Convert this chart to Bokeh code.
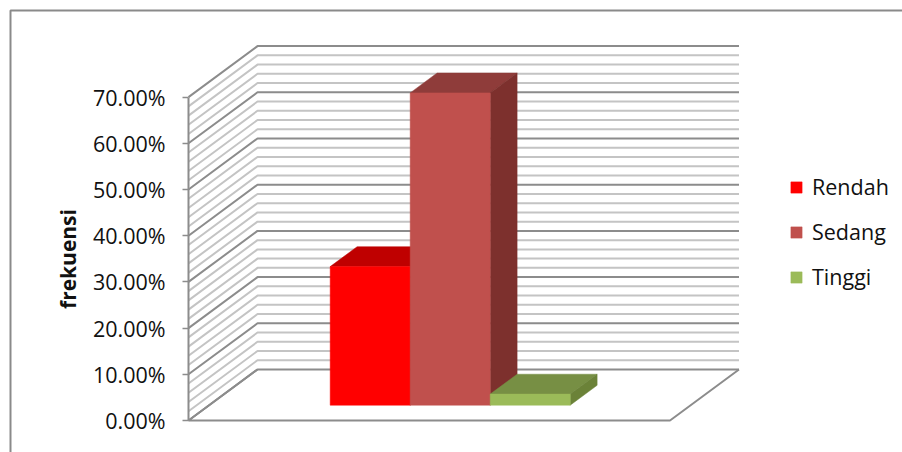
from bokeh.plotting import figure
from bokeh.models import Range1d, LinearAxis, FixedTicker, NumeralTickFormatter, Legend, LegendItem
from bokeh.embed import file_html
from bokeh.resources import INLINE

series = ["Rendah", "Sedang", "Tinggi"]
values = [0.300, 0.676, 0.024]
axis_ticks = [0.0, 0.1, 0.2, 0.3, 0.4, 0.5, 0.6, 0.7]
minor_ticks = [i / 100 for i in range(0, 72, 2)]
y_title = "frekuensi"

front_colors = ["#FF0000", "#C0504D", "#9BBB59"]
top_colors = ["#BF0000", "#8F3C3A", "#778F44"]
side_colors = ["#A80000", "#7D302D", "#6B8238"]

W, H = 902, 452
FONT = "Open Sans"
X0, X1 = 188.0, 669.5        # floor front edge, page pixels
Y_ZERO, PX_PER_UNIT = 420.0, 462.0
DX, DY = 69.0, 51.0          # full depth offset of the wall
BAR_LEFT, BAR_W = 329.7, 80.0
BAR_Z0, BAR_Z1 = 0.30, 0.69  # bar front/back as a share of depth


def P(x, v, z=0.0):
    """Project plot x, value v and depth z (0 front .. 1 back)."""
    return x + DX * z, v + DY * z / PX_PER_UNIT


p = figure(width=W, height=H, output_backend="svg", toolbar_location=None,
           x_axis_type=None, y_axis_type=None, min_border=0,
           x_range=Range1d(0, W),
           y_range=Range1d((Y_ZERO - H) / PX_PER_UNIT, Y_ZERO / PX_PER_UNIT))
p.outline_line_color = None
p.grid.visible = False

# outer chart border
ref = lambda y: (Y_ZERO - y) / PX_PER_UNIT
p.line([10, 10, W], [ref(H), ref(10), ref(10)], line_color="#8A8A8A", line_width=2)

# wall gridlines
for t in minor_ticks:
    major = abs(t * 10 - round(t * 10)) < 1e-9
    col = "#8C8C8C" if major else "#C4C4C4"
    pts = [P(X0, t, 0), P(X0, t, 1), P(X1, t, 1)]
    p.line([a for a, _ in pts], [b for _, b in pts], line_color=col, line_width=2)

# floor
fl = [P(X0, 0, 1), P(X0, 0, 0), P(X1, 0, 0), P(X1, 0, 1)]
p.line([a for a, _ in fl], [b for _, b in fl], line_color="#8C8C8C", line_width=2)

# bars
fronts = []
for i, v in enumerate(values):
    x0, x1 = BAR_LEFT - DX * BAR_Z0 + i * BAR_W, BAR_LEFT - DX * BAR_Z0 + (i + 1) * BAR_W
    top = [P(x0, v, BAR_Z0), P(x1, v, BAR_Z0), P(x1, v, BAR_Z1), P(x0, v, BAR_Z1)]
    side = [P(x1, 0, BAR_Z0), P(x1, v, BAR_Z0), P(x1, v, BAR_Z1), P(x1, 0, BAR_Z1)]
    front = [P(x0, 0, BAR_Z0), P(x1, 0, BAR_Z0), P(x1, v, BAR_Z0), P(x0, v, BAR_Z0)]
    for poly, c in ((top, top_colors[i]), (side, side_colors[i])):
        p.patch([a for a, _ in poly], [b for _, b in poly], fill_color=c, line_color=c, line_width=0.5)
    fronts.append(p.patch([a for a, _ in front], [b for _, b in front],
                          fill_color=front_colors[i], line_color=front_colors[i], line_width=0.5))

# value axis
ax = LinearAxis(ticker=FixedTicker(ticks=axis_ticks),
                formatter=NumeralTickFormatter(format="0.00%"),
                fixed_location=X0, bounds=(axis_ticks[0], axis_ticks[-1]))
ax.axis_line_color = "#8C8C8C"
ax.axis_line_width = 2
ax.major_tick_line_color = "#8C8C8C"
ax.major_tick_line_width = 1.5
ax.major_tick_in = 0
ax.major_tick_out = 6
ax.minor_tick_line_color = None
ax.major_label_text_font = FONT
ax.major_label_text_font_size = "21.5px"
ax.major_label_text_color = "#111111"
ax.major_label_standoff = 17
ax.axis_label = y_title
ax.axis_label_text_font = FONT
ax.axis_label_text_font_size = "21px"
ax.axis_label_text_font_style = "bold"
ax.axis_label_text_color = "#111111"
ax.axis_label_standoff = 8
p.add_layout(ax, "left")

legend = Legend(items=[LegendItem(label=s, renderers=[r]) for s, r in zip(series, fronts)],
                location=(789, 161), orientation="vertical",
                glyph_width=14, glyph_height=14, label_standoff=9, spacing=16,
                label_text_font=FONT, label_text_font_size="21.5px", label_text_color="#111111",
                background_fill_alpha=0, border_line_color=None, margin=0, padding=0)
p.add_layout(legend, "center")

open("out.html", "w").write(file_html(p, INLINE))
